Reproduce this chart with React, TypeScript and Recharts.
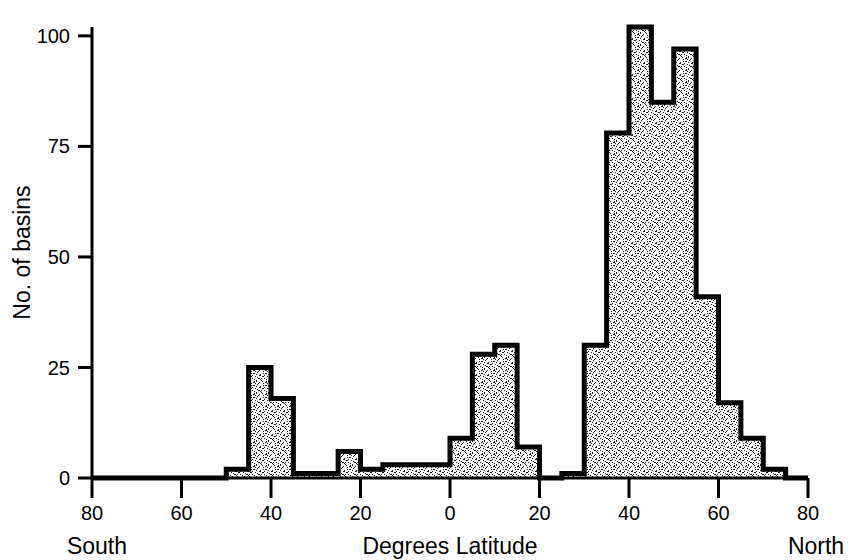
import { ComposedChart, Area, XAxis, YAxis, Label } from "recharts";

const FONT = "'Liberation Sans', Arial, Helvetica, sans-serif";

// 5-degree latitude bins, start of each bin (negative = south)
const binStarts = [
  -80, -75, -70, -65, -60, -55, -50, -45, -40, -35, -30, -25, -20, -15, -10, -5,
  0, 5, 10, 15, 20, 25, 30, 35, 40, 45, 50, 55, 60, 65, 70, 75,
];
const basinCounts = [
  0, 0, 0, 0, 0, 0, 2, 25, 18, 1, 1, 6, 2, 3, 3, 3,
  9, 28, 30, 7, 0, 1, 30, 78, 102, 85, 97, 41, 17, 9, 2, 0,
];
const latTicks = [-80, -60, -40, -20, 0, 20, 40, 60, 80];
const countTicks = [0, 25, 50, 75, 100];

const data = [
  ...binStarts.map((lat, i) => ({ lat, n: basinCounts[i] })),
  { lat: 80, n: 0 },
];

// stipple specks for the fill
const specks = [
  [1, 1, 2, 1], [5, 0, 1, 1], [8, 2, 1, 2], [3, 4, 1, 1], [10, 4, 2, 1],
  [0, 6, 1, 1], [6, 6, 2, 1], [4, 8, 1, 2], [9, 8, 1, 1], [1, 10, 2, 1],
  [7, 10, 1, 1], [11, 11, 1, 1], [2, 7, 1, 1], [7, 3, 1, 1], [10, 9, 1, 1],
  [4, 2, 1, 1], [0, 3, 1, 1], [5, 5, 1, 1], [9, 6, 1, 1], [2, 9, 1, 1],
  [6, 11, 1, 1], [11, 1, 1, 1], [8, 7, 1, 1], [3, 11, 1, 1],
];

function LatTick({ x, y, payload }: any) {
  const v = payload.value;
  return (
    <g>
      <text x={x} y={y} dy="0.71em" textAnchor="middle" fontSize={20} fill="#000" fontFamily={FONT}>
        {Math.abs(v)}
      </text>
      {v === -80 && (
        <text x={x + 5} y={y + 48} textAnchor="middle" fontSize={23} fill="#000" fontFamily={FONT}>
          South
        </text>
      )}
      {v === 80 && (
        <text x={x + 8} y={y + 48} textAnchor="middle" fontSize={23} fill="#000" fontFamily={FONT}>
          North
        </text>
      )}
    </g>
  );
}

export default function App() {
  return (
    <div style={{ position: "absolute", left: 0, top: 0, fontFamily: FONT }}>
      <ComposedChart
        width={849}
        height={560}
        data={data}
        margin={{ top: 27, right: 41, left: 0, bottom: 0 }}
      >
        <defs>
          <pattern id="stipple" width="12" height="12" patternUnits="userSpaceOnUse">
            <rect width="12" height="12" fill="#fff" />
            {specks.map(([sx, sy, w, h], i) => (
              <rect key={i} x={sx} y={sy} width={w} height={h} fill="#222" />
            ))}
          </pattern>
        </defs>
        <XAxis
          dataKey="lat"
          type="number"
          domain={[-80, 80]}
          ticks={latTicks}
          interval={0}
          height={82}
          tickSize={20}
          tickMargin={8}
          axisLine={{ stroke: "#000", strokeWidth: 3 }}
          tickLine={{ stroke: "#000", strokeWidth: 3 }}
          tick={<LatTick />}
        >
          <Label
            value="Degrees Latitude"
            position="insideBottom"
            offset={6}
            fontSize={23}
            fill="#000"
            fontFamily={FONT}
          />
        </XAxis>
        <YAxis
          type="number"
          domain={[0, 100]}
          ticks={countTicks}
          interval={0}
          width={92}
          tickSize={14}
          tickMargin={8}
          axisLine={{ stroke: "#000", strokeWidth: 3 }}
          tickLine={{ stroke: "#000", strokeWidth: 3 }}
          tick={{ fill: "#000", fontSize: 20, fontFamily: FONT }}
        >
          <Label
            value="No. of basins"
            angle={-90}
            position="insideLeft"
            offset={22}
            fontSize={23}
            fill="#000"
            fontFamily={FONT}
            style={{ textAnchor: "middle" }}
          />
        </YAxis>
        <Area
          type="stepAfter"
          dataKey="n"
          stroke="#000"
          strokeWidth={5}
          strokeLinejoin="miter"
          fill="url(#stipple)"
          fillOpacity={1}
          dot={false}
          activeDot={false}
          isAnimationActive={false}
        />
      </ComposedChart>
    </div>
  );
}
